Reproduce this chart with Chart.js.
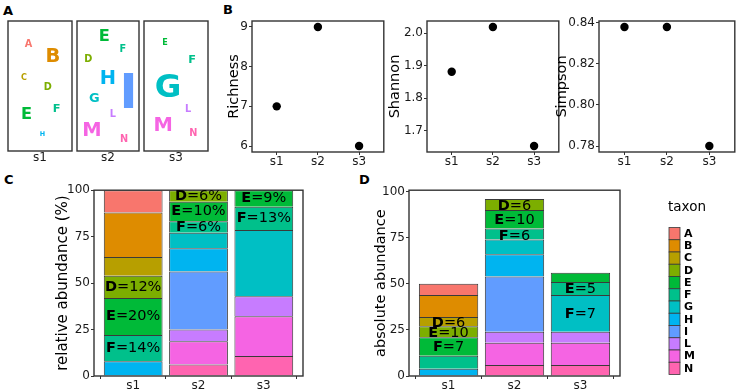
<!DOCTYPE html>
<html>
<head>
<meta charset="utf-8">
<script src="https://cdn.jsdelivr.net/npm/chart.js@4.4.0/dist/chart.umd.min.js"></script>
<style>
  body { margin: 0; width: 741px; height: 392px; background: #fff; position: relative; overflow: hidden; font-family: "DejaVu Sans"; }
  canvas { position: absolute; }
  .tag { position: absolute; font: bold 13px "DejaVu Sans"; color: #000; }
</style>
</head>
<body>
<div class="tag" style="left:3px;top:3px">A</div>
<div class="tag" style="left:223px;top:2px">B</div>
<div class="tag" style="left:4px;top:172px">C</div>
<div class="tag" style="left:359px;top:172px">D</div>
<canvas id="cloud1"></canvas>
<canvas id="cloud2"></canvas>
<canvas id="cloud3"></canvas>
<canvas id="rich"></canvas>
<canvas id="shan"></canvas>
<canvas id="simp"></canvas>
<canvas id="relAb"></canvas>
<canvas id="absAb"></canvas>
<script>
const samples = ['s1', 's2', 's3'];
const taxa = ['A', 'B', 'C', 'D', 'E', 'F', 'G', 'H', 'I', 'L', 'M', 'N'];
const taxonColors = ['#F8766D', '#DE8C00', '#B79F00', '#7CAE00', '#00BA38', '#00C08B',
                     '#00BFC4', '#00B4F0', '#619CFF', '#C77CFF', '#F564E3', '#FF64B0'];

// counts of each taxon (A..N) per sample, 0 = absent
const countsS1 = [6, 12, 5, 6, 10, 7, 0, 4, 0, 0, 0, 0];
const countsS2 = [0, 0, 0, 6, 10, 6, 8, 12, 30, 6, 12, 6];
const countsS3 = [0, 0, 0, 0, 5, 7, 20, 0, 0, 6, 12, 6];

// alpha diversity
const richness = [7, 9, 6];
const shannon = [1.881, 2.019, 1.652];
const simpson = [0.838, 0.838, 0.780];

const richTicks = [6, 7, 8, 9];
const shannonTicks = [1.7, 1.8, 1.9, 2.0];
const simpsonTicks = [0.78, 0.80, 0.82, 0.84];
const abundTicks = [0, 25, 50, 75, 100];

// word cloud letter spots inside each sample box (0..1), null = absent
const cloudXS1 = [0.32, 0.70, 0.25, 0.62, 0.29, 0.76, null, 0.54, null, null, null, null];
const cloudYS1 = [0.83, 0.74, 0.57, 0.50, 0.29, 0.33, null, 0.13, null, null, null, null];
const cloudXS2 = [null, null, null, 0.18, 0.44, 0.74, 0.28, 0.50, 0.83, 0.58, 0.24, 0.76];
const cloudYS2 = [null, null, null, 0.71, 0.89, 0.79, 0.41, 0.57, 0.47, 0.29, 0.17, 0.10];
const cloudXS3 = [null, null, null, null, 0.33, 0.75, 0.375, null, null, 0.69, 0.30, 0.77];
const cloudYS3 = [null, null, null, null, 0.84, 0.71, 0.51, null, null, 0.33, 0.21, 0.14];

// taxa that get a text label on the stacked bars
const labelTaxa = ['D', 'E', 'F'];
// where the D, E, F labels sit on the absolute abundance bars
const absLabelYS1 = [28.6, 23.4, 15.6];
const absLabelYS2 = [92.3, 84.5, 76.0];
const absLabelYS3 = [null, 47.2, 33.7];

const sampleCounts = [countsS1, countsS2, countsS3];
const cloudX = [cloudXS1, cloudXS2, cloudXS3];
const cloudY = [cloudYS1, cloudYS2, cloudYS3];
const absLabelY = [absLabelYS1, absLabelYS2, absLabelYS3];
const totals = sampleCounts.map(c => c.reduce((a, b) => a + b, 0));

Chart.defaults.font.family = '"DejaVu Sans"';
Chart.defaults.font.size = 12;
Chart.defaults.color = '#1a1a1a';
Chart.defaults.animation = false;
Chart.defaults.events = [];
Chart.defaults.plugins.legend.display = false;
Chart.defaults.plugins.tooltip.enabled = false;

const TICK = '#1a1a1a';
const LINE = '#333333';

// size and place a canvas so that its chart area lands on the given box
function placeCanvas(id, box, axisW, axisH, pad) {
  const c = document.getElementById(id);
  c.style.left = (box.l - axisW - pad.left) + 'px';
  c.style.top = (box.t - pad.top) + 'px';
  c.width = box.r - box.l + axisW + pad.left + pad.right;
  c.height = box.b - box.t + axisH + pad.top + pad.bottom;
  return c;
}

const frame = {
  id: 'frame',
  afterDatasetsDraw(chart) {
    const a = chart.chartArea, ctx = chart.ctx;
    ctx.save();
    ctx.strokeStyle = LINE;
    ctx.lineWidth = 1.4;
    ctx.strokeRect(a.left, a.top, a.right - a.left, a.bottom - a.top);
    ctx.restore();
  }
};

function expand(vals) {
  const lo = Math.min(...vals), hi = Math.max(...vals), d = (hi - lo) * 0.05;
  return [lo - d, hi + d];
}

function sampleAxis(axisH) {
  return {
    type: 'linear', min: 0.4, max: 3.6, offset: false,
    afterBuildTicks: s => { s.ticks = samples.map((_, i) => ({ value: i + 1 })); },
    ticks: { autoSkip: false, maxRotation: 0, padding: 0, color: TICK, font: { size: 12 },
             callback: v => samples[Math.round(v) - 1] },
    grid: { drawOnChartArea: false, tickLength: 3, color: LINE },
    border: { display: false },
    afterFit: s => { s.height = axisH; }
  };
}

function valueAxis(range, ticks, fmt, title, titleSize, axisW, stacked) {
  return {
    type: 'linear', min: range[0], max: range[1], stacked: stacked,
    afterBuildTicks: s => { s.ticks = ticks.map(v => ({ value: v })); },
    ticks: { padding: 1, color: TICK, font: { size: 12 }, callback: v => fmt(v) },
    grid: { drawOnChartArea: false, tickLength: 3, color: LINE },
    border: { display: false },
    title: { display: true, text: title, color: '#000', padding: 0, font: { size: titleSize } },
    afterFit: s => { s.width = axisW; }
  };
}

// ---- A: word clouds ----
const cloudLetters = {
  id: 'cloudLetters',
  afterDatasetsDraw(chart) {
    const ctx = chart.ctx;
    const ds = chart.data.datasets[0];
    chart.getDatasetMeta(0).data.forEach((pt, i) => {
      const d = ds.data[i];
      const size = d.n * 1.62;
      ctx.save();
      ctx.font = 'bold ' + size + 'px "DejaVu Sans"';
      ctx.fillStyle = taxonColors[d.k];
      ctx.textAlign = 'center';
      ctx.textBaseline = 'alphabetic';
      ctx.fillText(taxa[d.k], pt.x, pt.y + size * 0.729 / 2);
      ctx.restore();
    });
  }
};

const cloudBoxes = [
  { l: 8, t: 21, r: 72, b: 151 },
  { l: 77, t: 21, r: 139, b: 151 },
  { l: 144, t: 21, r: 208, b: 151 }
];

samples.forEach((s, i) => {
  const pad = { top: 2, left: 2, right: 2, bottom: 0 };
  const c = placeCanvas('cloud' + (i + 1), cloudBoxes[i], 0, 16, pad);
  const pts = [];
  taxa.forEach((t, k) => {
    if (sampleCounts[i][k] > 0) pts.push({ x: cloudX[i][k], y: cloudY[i][k], k: k, n: sampleCounts[i][k] });
  });
  new Chart(c, {
    type: 'scatter',
    data: { datasets: [{ data: pts, pointRadius: 0 }] },
    options: {
      responsive: false,
      layout: { padding: pad },
      scales: {
        x: {
          type: 'linear', min: 0, max: 1,
          afterBuildTicks: sc => { sc.ticks = [{ value: 0.5 }]; },
          ticks: { padding: 0, color: TICK, font: { size: 12 }, callback: () => s },
          grid: { display: false, drawTicks: false, tickLength: 0 },
          border: { display: false },
          afterFit: sc => { sc.height = 16; }
        },
        y: { type: 'linear', min: 0, max: 1, display: false }
      }
    },
    plugins: [cloudLetters, frame]
  });
});

// ---- B: alpha diversity ----
function diversityChart(id, box, axisW, values, ticks, fmt, title) {
  const pad = { top: 10, left: 0, right: 4, bottom: 0 };
  const c = placeCanvas(id, box, axisW, 14, pad);
  new Chart(c, {
    type: 'scatter',
    data: {
      datasets: [{
        data: values.map((v, i) => ({ x: i + 1, y: v })),
        pointRadius: 4.2, backgroundColor: '#000', borderWidth: 0
      }]
    },
    options: {
      responsive: false,
      layout: { padding: pad },
      scales: {
        x: sampleAxis(14),
        y: valueAxis(expand(values), ticks, fmt, title, 14.5, axisW, false)
      }
    },
    plugins: [frame]
  });
}

diversityChart('rich', { l: 252, t: 21, r: 384, b: 152 }, 26, richness, richTicks, v => String(v), 'Richness');
diversityChart('shan', { l: 427, t: 21, r: 559, b: 152 }, 40, shannon, shannonTicks, v => v.toFixed(1), 'Shannon');
diversityChart('simp', { l: 599, t: 21, r: 735, b: 152 }, 45, simpson, simpsonTicks, v => v.toFixed(2), 'Simpson');

// ---- C / D: stacked bars ----
function stackedSets(valueOf) {
  return taxa.map((t, k) => ({
    label: t,
    data: samples.map((s, i) => ({ x: i + 1, y: sampleCounts[i][k] > 0 ? valueOf(i, k) : null })),
    backgroundColor: taxonColors[k],
    borderColor: '#3a3a3a',
    borderWidth: { top: 1, left: 1, right: 1, bottom: 0 },
    borderSkipped: false,
    grouped: false,
    categoryPercentage: 0.9,
    barPercentage: 1
  })).reverse();
}

function drawMixedLabel(ctx, text, x, y, size) {
  const head = text[0], tail = text.slice(1);
  ctx.font = 'bold ' + size + 'px "DejaVu Sans"';
  const w1 = ctx.measureText(head).width;
  ctx.font = size + 'px "DejaVu Sans"';
  const w2 = ctx.measureText(tail).width;
  const x0 = x - (w1 + w2) / 2;
  ctx.textAlign = 'left';
  ctx.textBaseline = 'middle';
  ctx.fillStyle = '#000';
  ctx.font = 'bold ' + size + 'px "DejaVu Sans"';
  ctx.fillText(head, x0, y);
  ctx.font = size + 'px "DejaVu Sans"';
  ctx.fillText(tail, x0 + w1, y);
}

function barLabels(list) {
  return {
    id: 'barLabels',
    afterDraw(chart) {
      const ctx = chart.ctx, xs = chart.scales.x, ys = chart.scales.y;
      ctx.save();
      list.forEach(l => drawMixedLabel(ctx, l.text, xs.getPixelForValue(l.i + 1), ys.getPixelForValue(l.y), 14.5));
      ctx.restore();
    }
  };
}

const relLabels = [];
const absLabels = [];
samples.forEach((s, i) => {
  labelTaxa.forEach((t, j) => {
    const k = taxa.indexOf(t);
    const n = sampleCounts[i][k];
    if (!n) return;
    const pct = n / totals[i] * 100;
    let below = 0;
    for (let q = k + 1; q < taxa.length; q++) below += sampleCounts[i][q] / totals[i] * 100;
    relLabels.push({ i: i, y: below + pct / 2, text: t + '=' + Math.round(pct) + '%' });
    absLabels.push({ i: i, y: absLabelY[i][j], text: t + '=' + n });
  });
});

const legendKeys = {
  id: 'legendKeys',
  afterDraw(chart) {
    const ctx = chart.ctx, a = chart.chartArea;
    const x0 = a.right + 49, y0 = a.top + 37.3, h = 12.25, w = 11;
    ctx.save();
    ctx.fillStyle = '#000';
    ctx.font = '13.5px "DejaVu Sans"';
    ctx.textAlign = 'left';
    ctx.textBaseline = 'middle';
    ctx.fillText('taxon', a.right + 48, a.top + 17.7);
    taxa.forEach((t, k) => {
      const y = y0 + k * h;
      ctx.fillStyle = taxonColors[k];
      ctx.fillRect(x0, y, w, h);
      ctx.strokeStyle = '#3a3a3a';
      ctx.lineWidth = 0.8;
      ctx.strokeRect(x0, y, w, h);
      ctx.fillStyle = '#000';
      ctx.font = 'bold 11px "DejaVu Sans"';
      ctx.fillText(t, x0 + w + 4, y + h / 2 + 0.5);
    });
    ctx.restore();
  }
};

(function () {
  const pad = { top: 8, left: 0, right: 2, bottom: 0 };
  const c = placeCanvas('relAb', { l: 94, t: 190, r: 303, b: 376 }, 40, 16, pad);
  new Chart(c, {
    type: 'bar',
    data: { datasets: stackedSets((i, k) => sampleCounts[i][k] / totals[i] * 100) },
    options: {
      responsive: false,
      layout: { padding: pad },
      scales: {
        x: sampleAxis(16),
        y: valueAxis([0, 100], abundTicks, v => String(v), 'relative abundance (%)', 15, 40, true)
      }
    },
    plugins: [frame, barLabels(relLabels)]
  });
})();

(function () {
  const pad = { top: 8, left: 0, right: 121, bottom: 0 };
  const c = placeCanvas('absAb', { l: 409, t: 190, r: 620, b: 376 }, 36, 16, pad);
  const maxTotal = Math.max(...totals);
  new Chart(c, {
    type: 'bar',
    data: { datasets: stackedSets((i, k) => sampleCounts[i][k]) },
    options: {
      responsive: false,
      layout: { padding: pad },
      scales: {
        x: sampleAxis(16),
        y: valueAxis([0, maxTotal * 1.05], abundTicks, v => String(v), 'absolute abundance', 14.5, 36, true)
      }
    },
    plugins: [frame, barLabels(absLabels), legendKeys]
  });
})();
</script>
</body>
</html>
